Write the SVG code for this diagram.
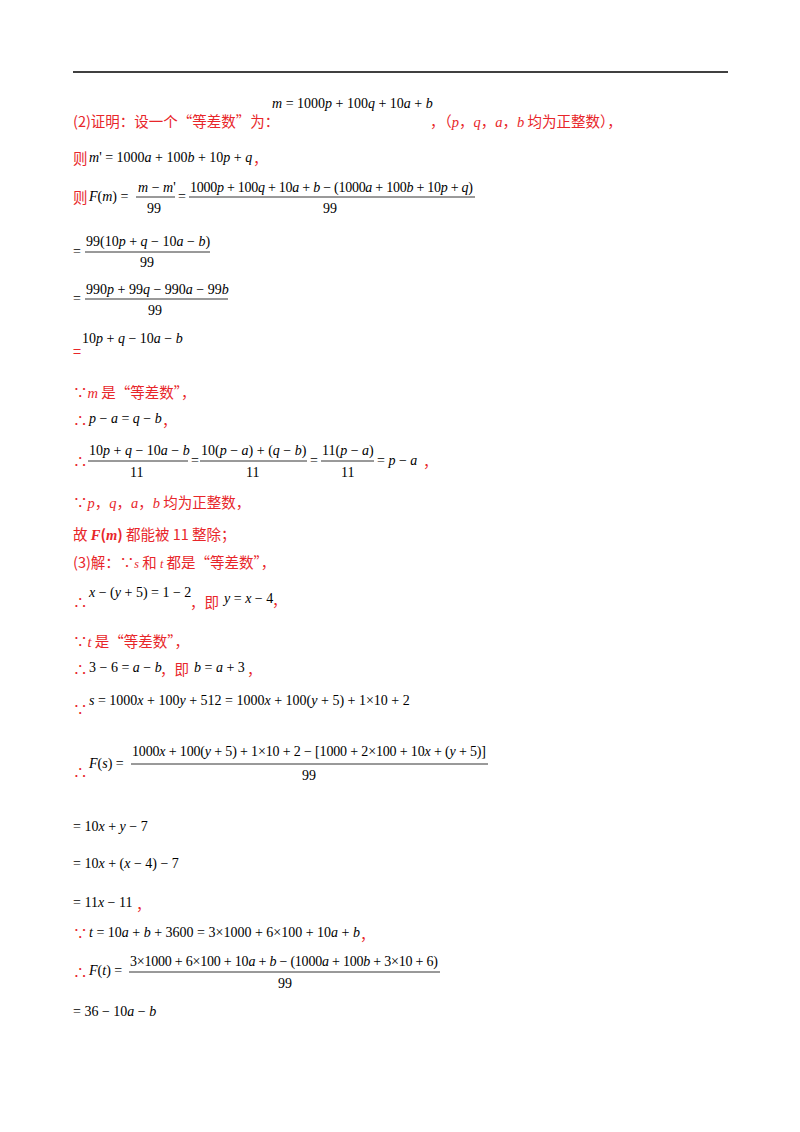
<svg xmlns="http://www.w3.org/2000/svg" width="800" height="1132" viewBox="0 0 800 1132">
<style>
.r{fill:#e8262a;font-family:"Noto Sans CJK SC","Liberation Serif",sans-serif;font-size:14.5px}
.m{fill:#000;font-family:"Liberation Serif",serif;font-size:14px}
.i{font-style:italic;font-family:"Liberation Serif",serif}
.fl{stroke:#000;stroke-width:0.8}
</style>
<rect width="800" height="1132" fill="#fff"/>
<line x1="73" y1="72" x2="728" y2="72" stroke="#000" stroke-width="1.5"/>
<text class="m" x="272" y="108"><tspan class="i">m</tspan> = 1000<tspan class="i">p</tspan> + 100<tspan class="i">q</tspan> + 10<tspan class="i">a</tspan> + <tspan class="i">b</tspan></text>
<text class="r" x="73" y="127">(2)证明：设一个“等差数”为：</text>
<text class="r" x="430" y="127">，（<tspan class="i">p</tspan>，<tspan class="i">q</tspan>，<tspan class="i">a</tspan>，<tspan class="i">b</tspan> 均为正整数），</text>
<text class="r" x="73" y="164">则</text>
<text class="m" x="89" y="162"><tspan class="i">m</tspan>' = 1000<tspan class="i">a</tspan> + 100<tspan class="i">b</tspan> + 10<tspan class="i">p</tspan> + <tspan class="i">q</tspan></text>
<text class="r" x="253" y="164">，</text>
<text class="r" x="73" y="203">则</text>
<text class="m" x="89" y="201"><tspan class="i">F</tspan>(<tspan class="i">m</tspan>) =</text>
<text class="m" x="138" y="192"><tspan class="i">m</tspan> − <tspan class="i">m</tspan>'</text>
<line class="fl" x1="136" y1="197" x2="175" y2="197"/>
<text class="m" x="147" y="213">99</text>
<text class="m" x="178" y="201">=</text>
<text class="m" x="190" y="192" textLength="283">1000<tspan class="i">p</tspan> + 100<tspan class="i">q</tspan> + 10<tspan class="i">a</tspan> + <tspan class="i">b</tspan> − (1000<tspan class="i">a</tspan> + 100<tspan class="i">b</tspan> + 10<tspan class="i">p</tspan> + <tspan class="i">q</tspan>)</text>
<line class="fl" x1="189" y1="197" x2="475" y2="197"/>
<text class="m" x="323" y="213">99</text>
<text class="m" x="73" y="256">=</text>
<text class="m" x="86" y="246">99(10<tspan class="i">p</tspan> + <tspan class="i">q</tspan> − 10<tspan class="i">a</tspan> − <tspan class="i">b</tspan>)</text>
<line class="fl" x1="85" y1="252" x2="210" y2="252"/>
<text class="m" x="140" y="267">99</text>
<text class="m" x="73" y="303">=</text>
<text class="m" x="86" y="294">990<tspan class="i">p</tspan> + 99<tspan class="i">q</tspan> − 990<tspan class="i">a</tspan> − 99<tspan class="i">b</tspan></text>
<line class="fl" x1="85" y1="299" x2="228" y2="299"/>
<text class="m" x="148" y="315">99</text>
<text class="r" x="73" y="357">=</text>
<text class="m" x="82" y="343">10<tspan class="i">p</tspan> + <tspan class="i">q</tspan> − 10<tspan class="i">a</tspan> − <tspan class="i">b</tspan></text>
<text class="r" x="73" y="398">∵<tspan class="i">m</tspan> 是“等差数”，</text>
<text class="r" x="73" y="426">∴</text>
<text class="m" x="89" y="423"><tspan class="i">p</tspan> − <tspan class="i">a</tspan> = <tspan class="i">q</tspan> − <tspan class="i">b</tspan></text>
<text class="r" x="162" y="426">，</text>
<text class="r" x="73" y="467">∴</text>
<text class="m" x="89" y="455">10<tspan class="i">p</tspan> + <tspan class="i">q</tspan> − 10<tspan class="i">a</tspan> − <tspan class="i">b</tspan></text>
<line class="fl" x1="88" y1="461" x2="188" y2="461"/>
<text class="m" x="130" y="477">11</text>
<text class="m" x="191" y="465">=</text>
<text class="m" x="201" y="455">10(<tspan class="i">p</tspan> − <tspan class="i">a</tspan>) + (<tspan class="i">q</tspan> − <tspan class="i">b</tspan>)</text>
<line class="fl" x1="200" y1="461" x2="307" y2="461"/>
<text class="m" x="246" y="477">11</text>
<text class="m" x="310" y="465">=</text>
<text class="m" x="322" y="455">11(<tspan class="i">p</tspan> − <tspan class="i">a</tspan>)</text>
<line class="fl" x1="321" y1="461" x2="374" y2="461"/>
<text class="m" x="341" y="477">11</text>
<text class="m" x="377" y="465">= <tspan class="i">p</tspan> − <tspan class="i">a</tspan></text>
<text class="r" x="423" y="467">，</text>
<text class="r" x="73" y="508">∵<tspan class="i">p</tspan>，<tspan class="i">q</tspan>，<tspan class="i">a</tspan>，<tspan class="i">b</tspan> 均为正整数，</text>
<text class="r" x="73" y="540">故 <tspan class="i" font-weight="bold">F</tspan><tspan font-weight="bold">(</tspan><tspan class="i" font-weight="bold">m</tspan><tspan font-weight="bold">)</tspan> 都能被 11 整除；</text>
<text class="r" x="73" y="568">(3)解：∵<tspan class="i" font-size="12">s</tspan> 和 <tspan class="i" font-size="12">t</tspan> 都是“等差数”，</text>
<text class="r" x="73" y="608">∴</text>
<text class="m" x="89" y="597"><tspan class="i">x</tspan> − (<tspan class="i">y</tspan> + 5) = 1 − 2</text>
<text class="r" x="190" y="608">，即</text>
<text class="m" x="224" y="603"><tspan class="i">y</tspan> = <tspan class="i">x</tspan> − 4</text>
<text class="r" x="272" y="606">，</text>
<text class="r" x="73" y="647">∵<tspan class="i">t</tspan> 是“等差数”，</text>
<text class="r" x="73" y="675">∴</text>
<text class="m" x="89" y="672">3 − 6 = <tspan class="i">a</tspan> − <tspan class="i">b</tspan></text>
<text class="r" x="160" y="675">，即</text>
<text class="m" x="194" y="672"><tspan class="i">b</tspan> = <tspan class="i">a</tspan> + 3</text>
<text class="r" x="247" y="675">，</text>
<text class="r" x="73" y="715">∵</text>
<text class="m" x="89" y="705"><tspan class="i">s</tspan> = 1000<tspan class="i">x</tspan> + 100<tspan class="i">y</tspan> + 512 = 1000<tspan class="i">x</tspan> + 100(<tspan class="i">y</tspan> + 5) + 1×10 + 2</text>
<text class="r" x="73" y="778">∴</text>
<text class="m" x="89" y="768"><tspan class="i">F</tspan>(<tspan class="i">s</tspan>) =</text>
<text class="m" x="132" y="756" textLength="354">1000<tspan class="i">x</tspan> + 100(<tspan class="i">y</tspan> + 5) + 1×10 + 2 − [1000 + 2×100 + 10<tspan class="i">x</tspan> + (<tspan class="i">y</tspan> + 5)]</text>
<line class="fl" x1="131" y1="764" x2="488" y2="764"/>
<text class="m" x="302" y="780">99</text>
<text class="m" x="73" y="831">= 10<tspan class="i">x</tspan> + <tspan class="i">y</tspan> − 7</text>
<text class="m" x="73" y="868">= 10<tspan class="i">x</tspan> + (<tspan class="i">x</tspan> − 4) − 7</text>
<text class="m" x="73" y="907">= 11<tspan class="i">x</tspan> − 11</text>
<text class="r" x="136" y="910">，</text>
<text class="r" x="73" y="939">∵</text>
<text class="m" x="89" y="937"><tspan class="i">t</tspan> = 10<tspan class="i">a</tspan> + <tspan class="i">b</tspan> + 3600 = 3×1000 + 6×100 + 10<tspan class="i">a</tspan> + <tspan class="i">b</tspan></text>
<text class="r" x="360" y="940">，</text>
<text class="r" x="73" y="978">∴</text>
<text class="m" x="89" y="975"><tspan class="i">F</tspan>(<tspan class="i">t</tspan>) =</text>
<text class="m" x="130" y="966" textLength="308">3×1000 + 6×100 + 10<tspan class="i">a</tspan> + <tspan class="i">b</tspan> − (1000<tspan class="i">a</tspan> + 100<tspan class="i">b</tspan> + 3×10 + 6)</text>
<line class="fl" x1="129" y1="972" x2="440" y2="972"/>
<text class="m" x="278" y="988">99</text>
<text class="m" x="73" y="1016">= 36 − 10<tspan class="i">a</tspan> − <tspan class="i">b</tspan></text>
</svg>
